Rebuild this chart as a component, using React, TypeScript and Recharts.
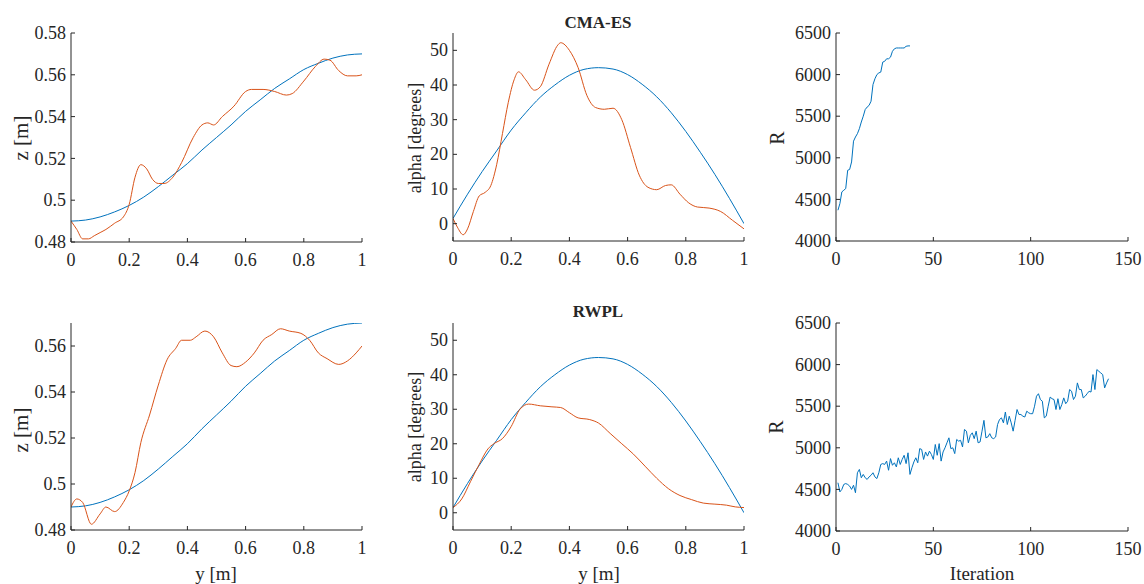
import { LineChart, Line, XAxis, YAxis } from 'recharts'

const AX = '#262626'
const BLUE = '#0072BD'
const ORANGE = '#D95319'
const FONT = 'Liberation Serif, DejaVu Serif, serif'

// ---- span position y [m] and reference curves ----
const refY = [0, 0.05, 0.1, 0.15, 0.2, 0.25, 0.3, 0.35, 0.4, 0.45, 0.5, 0.55, 0.6, 0.65, 0.7, 0.75, 0.8, 0.85, 0.9, 0.95, 1]
const refZ = [0.49, 0.4905, 0.492, 0.4944, 0.4975, 0.5015, 0.5065, 0.512, 0.5175, 0.524, 0.53, 0.536, 0.5425, 0.548, 0.5535, 0.558, 0.5625, 0.5655, 0.568, 0.5695, 0.57]
const refAlpha = [1.5, 8.5, 15, 21, 27, 32, 36.5, 40, 42.8, 44.5, 45, 44.6, 43, 40.2, 36.6, 32, 26.6, 20.6, 14.2, 7.3, 0]

// ---- CMA-ES result ----
const cmaZY = [0, 0.02, 0.04, 0.06, 0.08, 0.1, 0.12, 0.15, 0.18, 0.2, 0.22, 0.24, 0.26, 0.28, 0.3, 0.32, 0.35, 0.38, 0.42, 0.45, 0.47, 0.49, 0.52, 0.56, 0.6, 0.62, 0.66, 0.7, 0.74, 0.76, 0.8, 0.84, 0.87, 0.89, 0.92, 0.95, 0.98, 1]
const cmaZ = [0.49, 0.486, 0.4815, 0.4815, 0.483, 0.4845, 0.486, 0.489, 0.492, 0.498, 0.511, 0.517, 0.515, 0.51, 0.508, 0.508, 0.511, 0.518, 0.53, 0.536, 0.537, 0.536, 0.54, 0.545, 0.552, 0.553, 0.553, 0.552, 0.5503, 0.551, 0.557, 0.564, 0.5675, 0.567, 0.562, 0.5595, 0.5595, 0.56]
const cmaAlphaY = [0, 0.015, 0.035, 0.05, 0.07, 0.09, 0.11, 0.13, 0.15, 0.17, 0.19, 0.21, 0.225, 0.25, 0.28, 0.3, 0.33, 0.36, 0.37, 0.4, 0.43, 0.46, 0.49, 0.52, 0.55, 0.58, 0.61, 0.64, 0.67, 0.7, 0.73, 0.75, 0.78, 0.81, 0.84, 0.88, 0.92, 0.96, 1]
const cmaAlpha = [1.5, -1, -3.2, -1.5, 3.5, 8, 9, 11, 17, 26, 35, 41.5, 43.8, 41.5, 38.5, 39.5, 46, 51.5, 52.2, 50, 45, 37, 33.5, 33, 33.3, 30, 22, 14, 10.5, 9.8, 11, 11.2, 8.5, 6, 4.8, 4.5, 3.5, 1, -1.5]
const cmaIter = [1, 2, 3, 4, 5, 6, 7, 8, 9, 10, 11, 12, 13, 14, 15, 16, 17, 18, 19, 20, 21, 22, 23, 24, 25, 26, 27, 28, 29, 30, 31, 32, 33, 34, 35, 36, 37, 38]
const cmaR = [4370, 4450, 4590, 4610, 4630, 4850, 4860, 4950, 5200, 5250, 5290, 5350, 5430, 5500, 5580, 5610, 5630, 5680, 5880, 5950, 6000, 6020, 6030, 6150, 6160, 6190, 6190, 6210, 6280, 6310, 6320, 6320, 6320, 6320, 6320, 6340, 6345, 6345]

// ---- RWPL result ----
const rwZY = [0, 0.02, 0.04, 0.07, 0.1, 0.12, 0.15, 0.18, 0.2, 0.22, 0.24, 0.27, 0.3, 0.33, 0.36, 0.38, 0.41, 0.43, 0.46, 0.49, 0.52, 0.55, 0.57, 0.6, 0.63, 0.66, 0.69, 0.72, 0.75, 0.79, 0.82, 0.85, 0.88, 0.92, 0.95, 0.98, 1]
const rwZ = [0.49, 0.4935, 0.492, 0.4825, 0.487, 0.49, 0.488, 0.492, 0.497, 0.505, 0.518, 0.53, 0.543, 0.554, 0.559, 0.5625, 0.5625, 0.564, 0.5665, 0.564, 0.557, 0.5515, 0.551, 0.553, 0.557, 0.5625, 0.565, 0.5675, 0.5665, 0.5655, 0.5625, 0.557, 0.5545, 0.552, 0.5535, 0.557, 0.56]
const rwAlphaY = [0, 0.03, 0.06, 0.09, 0.12, 0.14, 0.17, 0.2, 0.23, 0.26, 0.3, 0.34, 0.37, 0.4, 0.43, 0.47, 0.5, 0.54, 0.58, 0.62, 0.66, 0.7, 0.74, 0.78, 0.82, 0.86, 0.9, 0.94, 0.97, 1]
const rwAlpha = [1.5, 4, 9, 14, 18.5, 20, 21.5, 25, 30, 31.5, 31, 30.7, 30.5, 29, 27.5, 27, 26, 23, 20, 17, 13.5, 10, 7, 5, 3.8, 2.8, 2.5, 2.2, 1.7, 1.5]
const rwR = [
  4580, 4470, 4500, 4560, 4570, 4560, 4540, 4500, 4550, 4460,
  4700, 4740, 4640, 4680, 4640, 4620, 4650, 4670, 4700, 4650,
  4630, 4700, 4800, 4810, 4800, 4840, 4730, 4870, 4790, 4820,
  4770, 4880, 4800, 4860, 4910, 4810, 4940, 4680, 4760, 4830,
  4880, 4820, 4990, 4980, 4860, 4950, 4900, 4960, 4920, 4860,
  5040, 4910, 5050, 4840, 4950, 5000, 5060, 5120, 4990, 5000,
  4930, 5100, 5080, 5090, 5010, 5220, 5200, 5060, 5150, 5180,
  5110, 5200, 5060, 5070, 5200, 5330, 5120, 5130, 5170, 5120,
  5110, 5130, 5280, 5340, 5360, 5300, 5430, 5280, 5380, 5300,
  5200, 5330, 5460, 5400, 5400, 5380, 5370, 5440, 5420, 5410,
  5410, 5500, 5620, 5650, 5580, 5560, 5360, 5380, 5500, 5610,
  5590, 5580, 5460, 5590, 5460, 5520, 5600, 5530, 5560, 5700,
  5680, 5580, 5620, 5780, 5700, 5700, 5600, 5620, 5650, 5680,
  5670, 5880, 5700, 5940, 5920, 5900, 5880, 5720, 5780, 5830,
]
const rwIter = rwR.map((_, i) => i + 1)

// ---- ticks ----
const spanTicks = [0, 0.2, 0.4, 0.6, 0.8, 1]
const iterTicks = [0, 50, 100, 150]
const zTicks = [0.48, 0.5, 0.52, 0.54, 0.56, 0.58]
const alphaTicks = [0, 10, 20, 30, 40, 50]
const rTicks = [4000, 4500, 5000, 5500, 6000, 6500]

const pts = (xs: number[], vs: number[]) => xs.map((x, i) => ({ x, v: vs[i] }))

type Series = { data: { x: number; v: number }[]; color: string; curve: 'monotone' | 'linear' }

const YW = 70
const RM = 20

const BottomTick = (p: any) => (
  <text x={p.x} y={p.y} dy="0.75em" textAnchor="middle" fontFamily={FONT} fontSize={18} fill={AX}>
    {String(p.payload.value)}
  </text>
)
const LeftTick = (p: any) => (
  <text x={p.x} y={p.y} dy="0.34em" textAnchor="end" fontFamily={FONT} fontSize={18} fill={AX}>
    {String(p.payload.value)}
  </text>
)

function Panel(props: {
  left: number
  top: number
  w: number
  h: number
  xDomain: [number, number]
  xTicks: number[]
  yDomain: [number, number]
  yTicks: number[]
  series: Series[]
}) {
  const { left, top, w, h, xDomain, xTicks, yDomain, yTicks, series } = props
  return (
    <div style={{ position: 'absolute', left: left - YW, top: top - 10 }}>
      <LineChart width={w + YW + RM} height={h + 50} margin={{ top: 10, right: RM, bottom: 0, left: 0 }}>
        <XAxis xAxisId="b" type="number" dataKey="x" domain={xDomain} ticks={xTicks} allowDataOverflow interval={0}
          height={40} tickSize={-4} tickMargin={14} stroke={AX} tick={BottomTick} />
        <XAxis xAxisId="t" orientation="top" type="number" dataKey="x" domain={xDomain} ticks={xTicks} allowDataOverflow
          interval={0} height={0} tickSize={-4} tick={false} stroke={AX} />
        <YAxis yAxisId="l" type="number" domain={yDomain} ticks={yTicks} allowDataOverflow interval={0}
          width={YW} tickSize={-4} tickMargin={9} stroke={AX} tick={LeftTick} />
        <YAxis yAxisId="r" orientation="right" type="number" domain={yDomain} ticks={yTicks} allowDataOverflow
          interval={0} width={0} tickSize={-4} tick={false} stroke={AX} />
        {series.map((s, i) => (
          <Line key={i} xAxisId="b" yAxisId="l" data={s.data} dataKey="v" type={s.curve} stroke={s.color}
            strokeWidth={1} dot={false} activeDot={false} isAnimationActive={false} />
        ))}
      </LineChart>
    </div>
  )
}

const txt = (x: number, y: number, s: string, rotate = false, bold = false, size = 18) => (
  <div style={{
    position: 'absolute', left: x, top: y, fontFamily: FONT, fontSize: bold ? 17 : size, fontWeight: bold ? 'bold' : 'normal',
    color: AX, whiteSpace: 'nowrap', lineHeight: 1,
    transform: `translate(-50%, -50%)${rotate ? ' rotate(-90deg)' : ''}`,
  }}>{s}</div>
)

export default function App() {
  return (
    <div style={{ position: 'absolute', left: 0, top: 0, width: 1144, height: 584, background: '#fff', overflow: 'hidden' }}>
      <Panel left={71} top={33} w={291} h={209} xDomain={[0, 1]} xTicks={spanTicks} yDomain={[0.48, 0.58]} yTicks={zTicks}
        series={[{ data: pts(refY, refZ), color: BLUE, curve: 'monotone' }, { data: pts(cmaZY, cmaZ), color: ORANGE, curve: 'monotone' }]} />
      <Panel left={453} top={33} w={291} h={208} xDomain={[0, 1]} xTicks={spanTicks} yDomain={[-5, 55]} yTicks={alphaTicks}
        series={[{ data: pts(refY, refAlpha), color: BLUE, curve: 'monotone' }, { data: pts(cmaAlphaY, cmaAlpha), color: ORANGE, curve: 'monotone' }]} />
      <Panel left={836} top={33} w={292} h={208} xDomain={[0, 150]} xTicks={iterTicks} yDomain={[4000, 6500]} yTicks={rTicks}
        series={[{ data: pts(cmaIter, cmaR), color: BLUE, curve: 'linear' }]} />

      <Panel left={71} top={323} w={291} h={207} xDomain={[0, 1]} xTicks={spanTicks} yDomain={[0.48, 0.57]} yTicks={zTicks.slice(0, 5)}
        series={[{ data: pts(refY, refZ), color: BLUE, curve: 'monotone' }, { data: pts(rwZY, rwZ), color: ORANGE, curve: 'monotone' }]} />
      <Panel left={453} top={323} w={291} h={207} xDomain={[0, 1]} xTicks={spanTicks} yDomain={[-5, 55]} yTicks={alphaTicks}
        series={[{ data: pts(refY, refAlpha), color: BLUE, curve: 'monotone' }, { data: pts(rwAlphaY, rwAlpha), color: ORANGE, curve: 'monotone' }]} />
      <Panel left={836} top={323} w={292} h={208} xDomain={[0, 150]} xTicks={iterTicks} yDomain={[4000, 6500]} yTicks={rTicks}
        series={[{ data: pts(rwIter, rwR), color: BLUE, curve: 'linear' }]} />

      {txt(598, 22, 'CMA-ES', false, true)}
      {txt(598, 311, 'RWPL', false, true)}
      {txt(21, 138, 'z [m]', true, false, 21)}
      {txt(415, 138, 'alpha [degrees]', true)}
      {txt(777, 138, 'R', true, false, 20)}
      {txt(21, 430, 'z [m]', true, false, 21)}
      {txt(415, 427, 'alpha [degrees]', true)}
      {txt(776, 427, 'R', true, false, 20)}
      {txt(216, 573, 'y [m]', false, false, 19)}
      {txt(599, 573, 'y [m]', false, false, 19)}
      {txt(982, 573, 'Iteration', false, false, 19)}
    </div>
  )
}
